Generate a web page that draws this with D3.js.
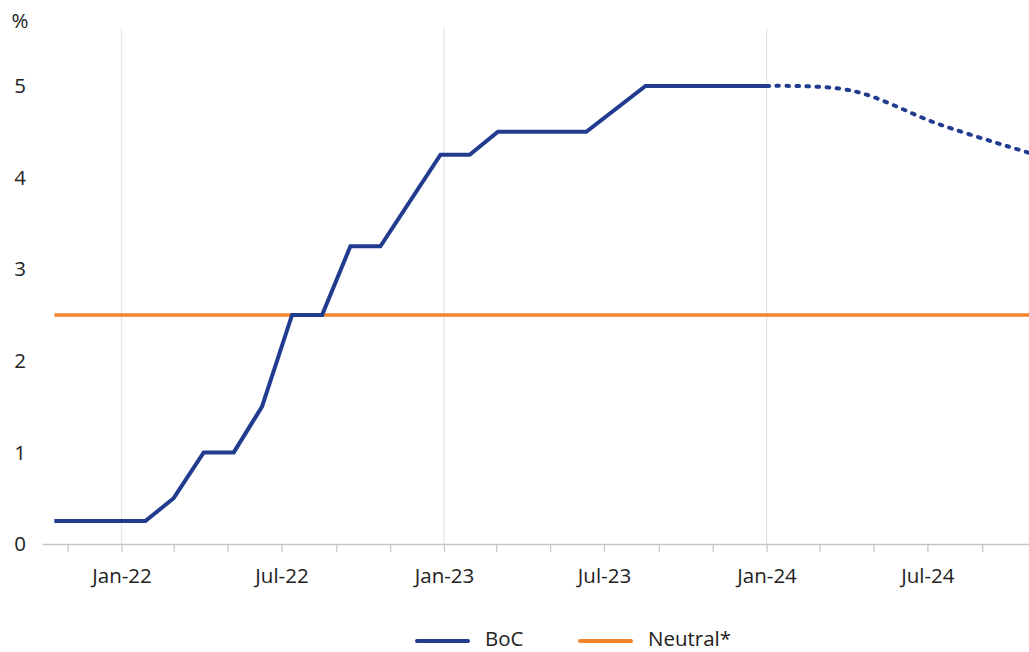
<!DOCTYPE html>
<html>
<head>
<meta charset="utf-8">
<script src="https://cdn.jsdelivr.net/npm/d3@7"></script>
<style>
	body { margin: 0; background: #fff; }
	svg { display: block; font-family: "Open Sans", sans-serif; }
</style>
</head>
<body>
<svg></svg>
<script>
// policy rate, actual
const bocDates = ["2021-10-17", "2022-01-28", "2022-03-01", "2022-04-04", "2022-05-08", "2022-06-09",
	"2022-07-13", "2022-08-16", "2022-09-17", "2022-10-21", "2022-12-28", "2023-01-30",
	"2023-03-03", "2023-06-11", "2023-08-17", "2024-01-01"];
const bocValues = [0.25, 0.25, 0.5, 1.0, 1.0, 1.5, 2.5, 2.5, 3.25, 3.25, 4.25, 4.25, 4.5, 4.5, 5.0, 5.0];

// policy rate, forecast (dotted)
const fcstDates = ["2024-01-01", "2024-04-06", "2024-07-15", "2024-10-24"];
const fcstValues = [5.0, 4.95, 4.58, 4.27];

// neutral rate
const neutralDates = ["2021-10-17", "2024-10-24"];
const neutralValues = [2.5, 2.5];

const yTicks = [0, 1, 2, 3, 4, 5];
const legendItems = ["BoC", "Neutral*"];

const width = 1029;
const height = 652;
const blue = "#213b8f";
const orange = "#f5842a";
const fontSize = "20.5px";

const parse = d3.utcParse("%Y-%m-%d");
const toPoints = (dates, values) => dates.map((d, i) => ({ date: parse(d), value: values[i] }));

let boc = toPoints(bocDates, bocValues);
let fcst = toPoints(fcstDates, fcstValues);
let neutral = toPoints(neutralDates, neutralValues);

let xScale = d3.scaleUtc()
	.domain([parse("2021-10-03"), parse("2024-10-24")])
	.range([42, 1029]);

let yScale = d3.scaleLinear()
	.domain([0, 5])
	.range([544, 86]);

let svg = d3.select("svg")
	.attr("width", width)
	.attr("height", height);

// vertical gridlines on January only
let janTicks = d3.utcYear.range(parse("2022-01-01"), parse("2024-10-24"));
svg.append("g")
	.selectAll("line")
	.data(janTicks)
	.enter()
	.append("line")
		.attr("x1", (d) => xScale(d))
		.attr("x2", (d) => xScale(d))
		.attr("y1", 28)
		.attr("y2", 544)
		.attr("stroke", "#e4e4e4")
		.attr("stroke-width", 1.2);

// x axis, ticks every 2 months, labels every 6
let xTickVals = d3.utcMonth.every(2).range(parse("2021-11-01"), parse("2024-10-24"));
let fmt = d3.utcFormat("%b-%y");
let xAxis = d3.axisBottom(xScale)
	.tickValues(xTickVals)
	.tickSize(8)
	.tickSizeOuter(0)
	.tickPadding(16)
	.tickFormat((d) => (d.getUTCMonth() % 6 === 0 ? fmt(d) : ""));

let gx = svg.append("g")
	.attr("transform", "translate(0, 544)")
	.call(xAxis);
gx.select(".domain").attr("stroke", "#c4c4c4").attr("stroke-width", 1.6);
gx.selectAll(".tick line").attr("stroke", "#c4c4c4").attr("stroke-width", 1.2);
gx.selectAll(".tick text")
	.attr("fill", "#222")
	.style("font-size", fontSize)
	.style("font-family", "'Open Sans', sans-serif");

// y labels
svg.append("g")
	.selectAll("text")
	.data(yTicks)
	.enter()
	.append("text")
		.attr("x", 20)
		.attr("y", (d) => yScale(d))
		.attr("dy", "0.35em")
		.attr("text-anchor", "middle")
		.attr("fill", "#222")
		.style("font-size", fontSize)
		.text((d) => d);

svg.append("text")
	.attr("x", 20)
	.attr("y", 21)
	.attr("dy", "0.35em")
	.attr("text-anchor", "middle")
	.attr("fill", "#222")
	.style("font-size", fontSize)
	.text("%");

let line = d3.line()
	.x((d) => xScale(d.date))
	.y((d) => yScale(d.value));

svg.append("path")
	.datum(neutral)
	.attr("d", line)
	.attr("fill", "none")
	.attr("stroke", orange)
	.attr("stroke-width", 3.5);

svg.append("path")
	.datum(boc)
	.attr("d", line)
	.attr("fill", "none")
	.attr("stroke", blue)
	.attr("stroke-width", 4)
	.attr("stroke-linejoin", "miter");

svg.append("path")
	.datum(fcst)
	.attr("d", line.curve(d3.curveCatmullRom))
	.attr("fill", "none")
	.attr("stroke", blue)
	.attr("stroke-width", 4)
	.attr("stroke-linecap", "round")
	.attr("stroke-dasharray", "2.6 7.4");

// legend
let legend = svg.append("g");
let legendX = [417, 580];
let legendColors = [blue, orange];
legendItems.forEach((name, i) => {
	legend.append("line")
		.attr("x1", legendX[i])
		.attr("x2", legendX[i] + 51)
		.attr("y1", 641)
		.attr("y2", 641)
		.attr("stroke", legendColors[i])
		.attr("stroke-width", 4)
		.attr("stroke-linecap", "round");
	legend.append("text")
		.attr("x", legendX[i] + 68)
		.attr("y", 639)
		.attr("dy", "0.35em")
		.attr("fill", "#222")
		.style("font-size", fontSize)
		.text(name);
});
</script>
</body>
</html>
